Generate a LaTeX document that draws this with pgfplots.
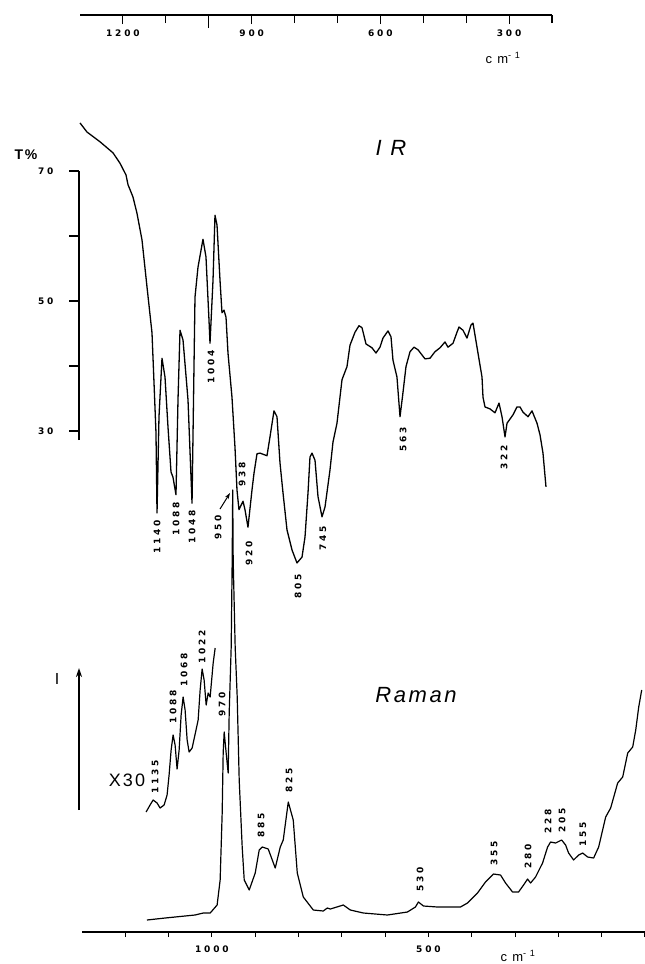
\documentclass[border=0pt]{standalone}
\usepackage{pgfplots}
\pgfplotsset{compat=1.18}
\usepackage{fontspec}
\setmainfont{Liberation Sans}
\newfontfamily\lblfont[LetterSpace=32]{DejaVu Sans}
\newfontfamily\wordfont[LetterSpace=12]{Liberation Sans}
\usetikzlibrary{arrows.meta}
\newcommand\pk{\lblfont\bfseries\fontsize{9}{10}\selectfont}
\begin{document}
\begin{tikzpicture}
\useasboundingbox (0pt,0pt) rectangle (645pt,-964pt);

% ---------- top wavenumber scale ----------
\begin{axis}[at={(80pt,-15pt)}, anchor=south west, scale only axis,
  width=472pt, height=10pt, xmin=200, xmax=1300, x dir=reverse,
  ymin=0, ymax=1, axis x line*=bottom, hide y axis,
  xtick={1200,900,600,300}, xticklabels={1200,900,600,300},
  minor xtick={1100,800,700,500,400,200},
  extra x ticks={1000}, extra x tick labels={},
  extra x tick style={major tick length=13pt},
  tick align=outside, major tick length=9pt, minor tick length=8pt,
  axis line style={line width=1.3pt},
  every tick/.style={line width=1.1pt, black},
  xticklabel style={font=\pk, yshift=-2pt},
  /pgf/number format/assume math mode=true]
\end{axis}

% ---------- IR curve ----------
\begin{axis}[at={(80pt,-16pt)}, anchor=north west, scale only axis,
  width=472pt, height=610pt, xmin=200, xmax=1300, x dir=reverse,
  ymin=0, ymax=93.85, hide axis, clip=false]
\addplot[black, line width=1.3pt, line join=round] coordinates {
(1300,77.4)(1283.7,76.0)(1253.4,74.5)(1223.1,72.8)(1206.8,71.2)(1192.8,69.4)(1188.1,67.9)(1176.5,66.0)(1167.2,63.5)(1155.5,59.4)(1143.9,52.2)(1132.2,45.1)(1127.5,37.4)(1122.9,29.7)(1120.5,17.4)(1115.9,32.2)(1108.9,41.2)(1101.9,38.3)(1094.9,30.6)(1087.9,23.7)(1083.3,22.9)(1076.3,20.2)(1071.6,34.8)(1066.9,45.5)(1059.9,44.0)(1048.3,34.8)(1038.9,18.9)(1032.0,50.6)(1025.0,55.2)(1013.4,59.5)(1006.4,56.8)(999.4,47.1)(997.0,43.5)(990.0,53.2)(985.4,63.2)(980.7,61.7)(973.7,53.2)(969.1,48.2)(964.4,48.6)(959.7,47.5)(955.1,42.0)(945.8,35.2)(938.8,27.5)(934.1,20.9)(929.5,17.9)(920.1,19.2)(915.5,17.9)(908.5,15.2)(899.2,20.9)(894.5,23.5)(887.5,26.5)(880.5,26.6)(864.2,26.2)(857.2,29.1)(847.9,33.1)(840.9,32.2)(833.9,25.1)(826.9,20.5)(817.6,14.8)(805.9,11.7)(794.3,9.7)(782.6,10.6)(775.6,13.7)(768.6,20.5)(764.0,26.0)(759.3,26.6)(752.3,25.5)(745.3,19.9)(736.0,16.8)(729.0,18.3)(717.4,24.0)(710.4,28.3)(701.1,31.2)(689.4,37.9)(677.8,39.9)(670.8,43.2)(659.1,45.2)(649.8,46.2)(642.8,45.9)(633.5,43.4)(619.5,42.8)(610.2,42.0)(600.9,42.9)(593.9,44.3)(582.2,45.4)(575.2,44.5)(570.6,40.9)(561.3,38.3)(554.2,32.2)(547.3,35.9)(540.3,39.9)(530.9,42.2)(521.6,42.9)(512.3,42.5)(496.0,41.1)(484.3,41.2)(472.7,42.2)(461.0,42.8)(449.4,43.7)(442.4,42.9)(430.7,43.5)(421.4,45.2)(416.7,46.0)(407.4,45.5)(398.1,44.3)(388.8,46.3)(384.1,46.6)(374.8,42.9)(363.1,38.3)(360.8,35.2)(356.1,33.7)(344.5,33.4)(332.8,32.8)(323.5,34.3)(316.5,32.2)(309.5,29.1)(304.8,31.2)(290.8,32.5)(281.6,33.7)(274.6,33.7)(267.6,32.9)(255.9,32.2)(246.6,33.1)(234.9,31.2)(227.9,29.4)(221.0,26.6)(214.0,21.4)
};
\end{axis}

% ---------- T% axis ----------
\begin{axis}[at={(79pt,-171pt)}, anchor=north west, scale only axis,
  width=10pt, height=269.1pt, xmin=0, xmax=1, ymin=28.6, ymax=70,
  axis y line*=left, hide x axis,
  ytick={30,50,70}, minor ytick={40,60},
  tick align=outside, major tick length=10pt, minor tick length=10pt,
  axis line style={line width=1.2pt},
  every tick/.style={line width=1.1pt, black},
  yticklabel style={font=\pk, xshift=-12pt},
  /pgf/number format/assume math mode=true]
\end{axis}

% ---------- Raman ----------
\begin{axis}[at={(82pt,-932pt)}, anchor=south west, scale only axis,
  width=563pt, height=450pt, xmin=0, xmax=1300, x dir=reverse,
  ymin=0, ymax=450, axis x line*=bottom, hide y axis, clip=false,
  xtick={1000,500}, xticklabels={1000,500},
  minor xtick={1200,1100,900,800,700,600,400,300,200,100,0},
  tick align=outside, major tick length=5pt, minor tick length=5pt,
  axis line style={line width=1.3pt},
  every tick/.style={line width=1.1pt, black},
  xticklabel style={font=\pk, yshift=-5pt},
  /pgf/number format/assume math mode=true]
\addplot[black, line width=1.2pt, line join=round] coordinates {
(1150,12)(1108,14)(1062,16)(1039,17)(1020,19)(1004,19)(988,27)(981,52)(976.3,119)(974,179)(971.7,200)(967.1,179)(962.5,159)(960.1,219)(955.5,285)(953.2,372)(952,442)(950.9,372)(946.3,285)(941.6,235)(937,152)(930.1,85)(925.4,52)(913.9,42)(900,59)(890.8,82)(883.8,85)(870,83)(853.8,64)(842.2,85)(835.3,92)(823.7,130)(812.2,112)(802.9,59)(789,35)(765.9,22)(742.8,21)(733.6,24)(726.6,23)(696.6,27)(680.4,22)(650.3,19)(594.8,17)(548.6,20)(530.1,25)(523.2,30)(511.6,26)(479.2,25)(426.1,25)(409.9,29)(386.8,39)(368.3,50)(349.8,58)(333.6,57)(322,49)(305.8,40)(292,40)(280.4,47)(271.2,53)(264.2,49)(252.7,55)(236.5,69)(224.9,85)(218,90)(206.4,89)(192.5,92)(183.3,87)(176.4,79)(164.8,72)(153.2,77)(144,79)(132.4,75)(118.6,74)(107,85)(90.8,115)(79.3,124)(63.1,149)(51.5,155)(39.9,179)(28.4,185)(21.4,202)(14.5,225)(7.6,242)
};
\addplot[black, line width=1.2pt, line join=round] coordinates {
(1152,120)(1142.8,127)(1135.8,132)(1126.6,129)(1119.7,124)(1110.4,127)(1103.5,137)(1098.9,157)(1094.2,182)(1089.6,197)(1085,187)(1080.4,163)(1075.7,182)(1071.1,217)(1066.5,235)(1061.9,222)(1057.2,192)(1052.6,180)(1045.7,184)(1038.7,198)(1031.8,212)(1027.2,242)(1022.6,263)(1018,252)(1013.3,227)(1008.7,239)(1004.1,235)(997.1,269)(992.5,284)
};
\end{axis}

% ---------- texts ----------
\node[font=\wordfont\fontsize{13}{14}\selectfont] at (503pt,-58pt) {c m\textsuperscript{- 1}};
\node[font=\wordfont\fontsize{13}{14}\selectfont] at (518pt,-956pt) {c m\textsuperscript{- 1}};
\node[font=\wordfont\bfseries\fontsize{14}{15}\selectfont] at (26pt,-155pt) {T\%};
\node[font=\wordfont\itshape\fontsize{22}{24}\selectfont] at (391pt,-148pt) {I R};
\node[font=\wordfont\itshape\fontsize{22}{24}\selectfont] at (416pt,-695pt) {Raman};
\node[font=\wordfont\fontsize{18}{20}\selectfont] at (127pt,-780pt) {X30};
\node[font=\wordfont\fontsize{16}{18}\selectfont] at (57pt,-679pt) {I};
\draw[line width=1.2pt,-{Stealth[length=9pt,width=6pt]}] (79pt,-810pt) -- (79pt,-668pt);
\draw[line width=1pt,-{Stealth[length=6pt,width=4pt]}] (220pt,-509pt) -- (230pt,-493pt);

% IR peak labels
\foreach \t/\x/\y in {1140/157/537, 1088/176/519, 1048/192/527, 1004/211/367, 950/218/527, 938/242/474, 920/249/553, 805/298/586, 745/323/538, 563/403/439, 322/504/457}
  \node[font=\pk, rotate=90] at (\x pt,-\y pt) {\t};
% Raman peak labels
\foreach \t/\x/\y in {1135/155/777, 1088/173/707, 1068/184/670, 1022/202/647, 970/222/704, 885/261/825, 825/289/780, 530/420/879, 355/494/853, 280/528/856, 228/548/821, 205/562/820, 155/583/834}
  \node[font=\pk, rotate=90] at (\x pt,-\y pt) {\t};
\end{tikzpicture}
\end{document}
